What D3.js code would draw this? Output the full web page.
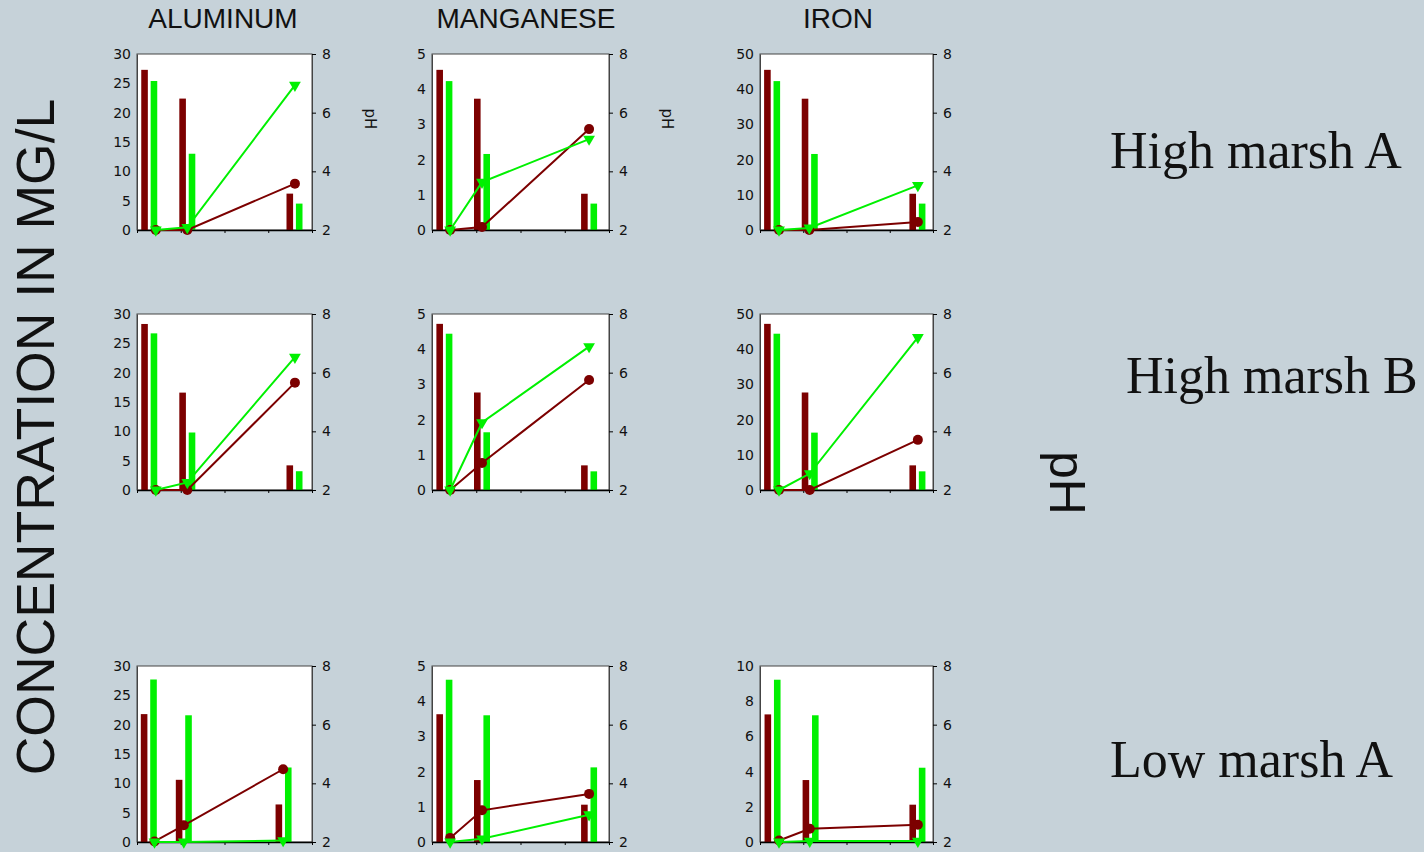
<!DOCTYPE html>
<html>
<head>
<meta charset="utf-8">
<script src="https://cdn.jsdelivr.net/npm/d3@7"></script>
<style>
  html, body { margin: 0; padding: 0; background: #c6d2d9; }
  svg { display: block; }
  text { font-family: "Liberation Sans", Arial, sans-serif; fill: #111; }
</style>
</head>
<body>
<svg id="chart" width="1424" height="852"></svg>
<script>
// Metals measured at three sampling points per site
const elements = ["ALUMINUM", "MANGANESE", "IRON"];
const sites = ["High marsh A", "High marsh B", "Low marsh A"];

// Concentration axis maxima and tick steps [site][element]
const concMax  = [[30, 5, 50], [30, 5, 50], [30, 5, 10]];
const concStep = [[5, 1, 10], [5, 1, 10], [5, 1, 2]];
const phTicks = [2, 4, 6, 8];

// Sampling positions on the horizontal axis (0–4) [site][element][point]
const groupX = [
  [[0.28, 1.15, 3.60], [0.28, 1.13, 3.55], [0.28, 1.15, 3.64]],
  [[0.28, 1.15, 3.60], [0.28, 1.13, 3.55], [0.28, 1.15, 3.64]],
  [[0.27, 1.07, 3.35], [0.28, 1.13, 3.55], [0.29, 1.17, 3.64]]
];
const pointX = [
  [[0.43, 1.15, 3.61], [0.41, 1.13, 3.55], [0.44, 1.14, 3.65]],
  [[0.43, 1.15, 3.61], [0.41, 1.13, 3.55], [0.44, 1.15, 3.65]],
  [[0.40, 1.07, 3.34], [0.41, 1.13, 3.55], [0.44, 1.15, 3.65]]
];

// Concentrations (mg/L) shown as bars [site][element][point]
const maroonBars = [
  [[27.3, 22.4, 6.2], [4.55, 3.73, 1.03], [45.5, 37.3, 10.3]],
  [[28.3, 16.6, 4.2], [4.72, 2.77, 0.70], [47.2, 27.7, 7.0]],
  [[21.8, 10.6, 6.4], [3.63, 1.76, 1.06], [7.25, 3.52, 2.12]]
];
const greenBars = [
  [[25.4, 13.0, 4.5], [4.23, 2.16, 0.75], [42.3, 21.6, 7.5]],
  [[26.7, 9.8, 3.2], [4.44, 1.64, 0.53], [44.4, 16.3, 5.3]],
  [[27.7, 21.6, 12.7], [4.61, 3.60, 2.12], [9.22, 7.20, 4.22]]
];

// pH shown as lines [site][element][point]
const maroonPH = [
  [[2.0, 2.0, 3.58], [2.0, 2.10, 5.44], [2.0, 2.0, 2.27]],
  [[2.0, 2.0, 5.66], [2.0, 2.92, 5.75], [2.0, 2.0, 3.71]],
  [[2.02, 2.57, 4.48], [2.14, 3.08, 3.64], [2.05, 2.45, 2.59]]
];
const greenPH = [
  [[2.0, 2.09, 6.94], [2.0, 3.63, 5.10], [2.0, 2.07, 3.52]],
  [[2.0, 2.26, 6.53], [2.0, 4.30, 6.89], [2.0, 2.56, 7.20]],
  [[2.0, 2.0, 2.05], [2.0, 2.11, 2.93], [2.0, 2.03, 2.03]]
];

const MAROON = "#7c0000";
const GREEN = "#00f000";
const TICK_FONT = "'DejaVu Sans', Verdana, sans-serif";

const svg = d3.select("#chart");

// Panel frames
const colSpans = [[137, 312], [432, 609], [760, 933]];
const rowSpans = [[54, 230], [314, 490], [666, 842]];

// Column titles
const titleX = [223, 526, 838];
elements.forEach((el, c) => {
  svg.append("text")
    .attr("x", titleX[c]).attr("y", 28)
    .attr("text-anchor", "middle")
    .style("font-size", "28px")
    .text(el);
});

// Row labels
const rowLabelPos = [[1110, 168], [1126, 393], [1110, 777]];
sites.forEach((s, r) => {
  svg.append("text")
    .attr("x", rowLabelPos[r][0]).attr("y", rowLabelPos[r][1])
    .style("font-family", "'Liberation Serif', 'Times New Roman', serif")
    .style("font-size", "52px")
    .text(s);
});

// Axis titles
svg.append("text")
  .attr("transform", "translate(35,437) rotate(-90)")
  .attr("text-anchor", "middle")
  .attr("dominant-baseline", "central")
  .style("font-size", "53.5px")
  .text("CONCENTRATION IN MG/L");

svg.append("text")
  .attr("transform", "translate(1067,483) rotate(90)")
  .attr("text-anchor", "middle")
  .attr("dominant-baseline", "central")
  .style("font-size", "50px")
  .text("pH");

const seriesBand = d3.scaleBand().domain(["maroon", "green"]).range([-8, 8]).paddingInner(0.3);

sites.forEach((site, r) => {
  elements.forEach((el, c) => {
    const [x0, x1] = colSpans[c];
    const [y0, y1] = rowSpans[r];
    const w = x1 - x0, h = y1 - y0;
    const g = svg.append("g").attr("transform", `translate(${x0},${y0})`);

    const x = d3.scaleLinear().domain([0, 4]).range([0, w]);
    const yC = d3.scaleLinear().domain([0, concMax[r][c]]).range([h, 0]);
    const yP = d3.scaleLinear().domain([2, 8]).range([h, 0]);

    g.append("rect").attr("width", w).attr("height", h)
      .attr("fill", "#fff").attr("stroke", "#444").attr("stroke-width", 1);

    // Bars
    const bars = [
      { key: "maroon", color: MAROON, vals: maroonBars[r][c] },
      { key: "green", color: GREEN, vals: greenBars[r][c] }
    ];
    bars.forEach(s => {
      g.selectAll(null).data(s.vals).enter().append("rect")
        .attr("x", (d, i) => x(groupX[r][c][i]) + seriesBand(s.key))
        .attr("width", seriesBand.bandwidth())
        .attr("y", d => yC(d))
        .attr("height", d => h - yC(d))
        .attr("fill", s.color);
    });

    // Axes
    const ticks = d3.range(0, concMax[r][c] + 1e-9, concStep[r][c]);
    const left = g.append("g")
      .call(d3.axisLeft(yC).tickValues(ticks).tickSize(0).tickPadding(6).tickFormat(d3.format("d")));
    left.select(".domain").attr("stroke", "#444");

    const right = g.append("g").attr("transform", `translate(${w},0)`)
      .call(d3.axisRight(yP).tickValues(phTicks).tickSize(4).tickSizeOuter(0).tickPadding(6).tickFormat(d3.format("d")));
    right.select(".domain").attr("stroke", "#444");

    const bottom = g.append("g").attr("transform", `translate(0,${h})`)
      .call(d3.axisBottom(x).ticks(4).tickSize(3).tickSizeOuter(0).tickFormat(""));
    bottom.select(".domain").attr("stroke", "#000").attr("stroke-width", 1.3);

    [left, right].forEach(a => a.selectAll("text")
      .style("font-size", "14px").attr("fill", "#111")
      .style("font-family", TICK_FONT));

    // pH lines
    const lines = [
      { color: MAROON, vals: maroonPH[r][c], marker: "circle" },
      { color: GREEN, vals: greenPH[r][c], marker: "triangle" }
    ];
    lines.forEach(s => {
      const pts = s.vals.map((v, i) => [x(pointX[r][c][i]), yP(v)]);
      g.append("path")
        .attr("d", d3.line()(pts))
        .attr("fill", "none").attr("stroke", s.color).attr("stroke-width", 2);
      if (s.marker === "circle") {
        g.selectAll(null).data(pts).enter().append("circle")
          .attr("cx", d => d[0]).attr("cy", d => d[1]).attr("r", 5)
          .attr("fill", s.color);
      } else {
        g.selectAll(null).data(pts).enter().append("path")
          .attr("d", d3.symbol(d3.symbolTriangle, 60))
          .attr("transform", d => `translate(${d[0]},${d[1]}) rotate(180)`)
          .attr("fill", s.color);
      }
    });

    // Right-axis title beside the first two top panels
    if (r === 0 && c < 2) {
      svg.append("text")
        .attr("transform", `translate(${x1 + 58},119) rotate(90)`)
        .attr("text-anchor", "middle")
        .attr("dominant-baseline", "central")
        .style("font-size", "15px")
        .style("font-family", TICK_FONT)
        .text("pH");
    }
  });
});
</script>
</body>
</html>
